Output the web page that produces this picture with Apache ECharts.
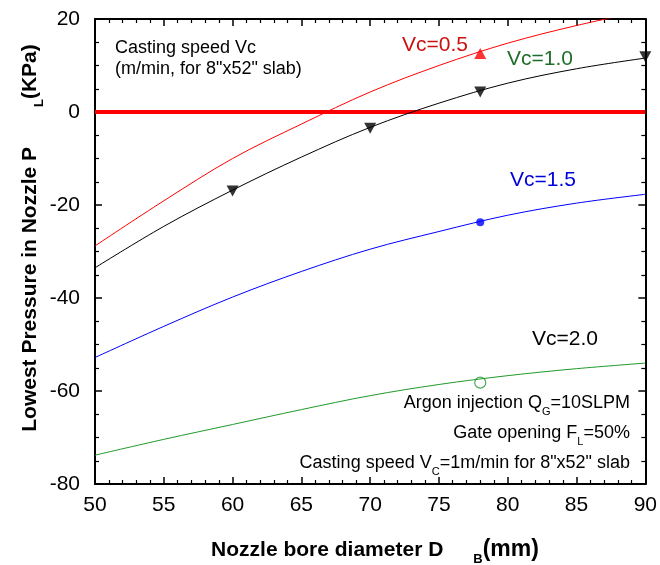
<!DOCTYPE html>
<html>
<head>
<meta charset="utf-8">
<script src="https://cdn.jsdelivr.net/npm/echarts@6/dist/echarts.min.js"></script>
<style>html,body{margin:0;padding:0;background:#fff}#c{width:660px;height:565px}</style>
</head>
<body>
<div id="c"></div>
<script>
// Nozzle bore diameter D_B (mm)
const diam = [50, 55, 60, 65, 70, 75, 80, 85, 90];
// Lowest pressure P_L (kPa) for each casting speed
const vc05 = [-28.8, -19.1, -10.0, -2.6, 4.3, 10.0, 14.8, 18.6, 21.8];
const vc10 = [-33.5, -24.6, -16.8, -9.7, -3.3, 1.9, 6.2, 9.3, 11.6];
const vc15 = [-52.8, -46.1, -39.8, -34.3, -29.5, -25.7, -22.2, -19.6, -17.7];
const vc20 = [-73.8, -70.4, -67.2, -64.0, -61.0, -58.6, -56.7, -55.2, -54.0];
// measured points
const mk05 = [[78, 12.6]];
const mk10 = [[60, -17.0], [70, -3.5], [78, 4.3], [90, 11.9]];
const mk15 = [[78, -23.7]];
const mk20 = [[78, -58.2]];
const zeroLine = [[50, 0], [90, 0]];
const xTicks = [50, 55, 60, 65, 70, 75, 80, 85, 90];
const yTicks = [-80, -60, -40, -20, 0, 20];

const FONT = '"Liberation Sans", Arial, Helvetica, sans-serif';
const pair = (xs, ys) => xs.map((x, i) => [x, ys[i]]);

const axisCommon = {
  type: 'value',
  axisLine: { show: true, onZero: false, lineStyle: { color: '#000', width: 2 } },
  axisTick: { show: true, inside: true, length: 7, lineStyle: { color: '#000', width: 1.5 } },
  minorTick: { show: true, length: 4, lineStyle: { color: '#000', width: 1.2 } },
  splitLine: { show: false },
  minorSplitLine: { show: false }
};

const chart = echarts.init(document.getElementById('c'));
chart.setOption({
  backgroundColor: '#fff',
  animation: false,
  grid: { left: 95, right: 14, top: 19, bottom: 81 },
  xAxis: [
    Object.assign({}, axisCommon, {
      position: 'bottom', min: xTicks[0], max: xTicks[xTicks.length - 1], interval: 5,
      minorTick: Object.assign({}, axisCommon.minorTick, { splitNumber: 5 }),
      axisLabel: { color: '#000', fontSize: 21, fontFamily: FONT, margin: 11 }
    }),
    Object.assign({}, axisCommon, {
      position: 'top', min: xTicks[0], max: xTicks[xTicks.length - 1], interval: 5,
      minorTick: Object.assign({}, axisCommon.minorTick, { splitNumber: 5 }),
      axisLabel: { show: false }
    })
  ],
  yAxis: [
    Object.assign({}, axisCommon, {
      position: 'left', min: yTicks[0], max: yTicks[yTicks.length - 1], interval: 20,
      minorTick: Object.assign({}, axisCommon.minorTick, { splitNumber: 4 }),
      axisLabel: { color: '#000', fontSize: 21, fontFamily: FONT, margin: 15 }
    }),
    Object.assign({}, axisCommon, {
      position: 'right', min: yTicks[0], max: yTicks[yTicks.length - 1], interval: 20,
      minorTick: Object.assign({}, axisCommon.minorTick, { splitNumber: 4 }),
      axisLabel: { show: false }
    })
  ],
  series: [
    { type: 'line', data: zeroLine, symbol: 'none', lineStyle: { color: '#ff0000', width: 4 }, z: 1 },
    { type: 'line', data: pair(diam, vc05), smooth: 0.35, symbol: 'none', lineStyle: { color: '#ff0000', width: 1 }, clip: true, z: 2 },
    { type: 'line', data: pair(diam, vc10), smooth: 0.35, symbol: 'none', lineStyle: { color: '#000000', width: 1 }, z: 2 },
    { type: 'line', data: pair(diam, vc15), smooth: 0.35, symbol: 'none', lineStyle: { color: '#0000ff', width: 1 }, z: 2 },
    { type: 'line', data: pair(diam, vc20), smooth: 0.35, symbol: 'none', lineStyle: { color: '#1f9a2a', width: 1 }, z: 2 },
    { type: 'scatter', data: mk05, symbol: 'triangle', symbolSize: [12, 11], itemStyle: { color: '#ff0000' }, z: 3 },
    { type: 'scatter', data: mk10, symbol: 'triangle', symbolRotate: 180, symbolSize: [12, 11], itemStyle: { color: '#000' }, clip: false, z: 3 },
    { type: 'scatter', data: mk15, symbol: 'circle', symbolSize: 8, itemStyle: { color: '#0000ff' }, z: 3 },
    { type: 'scatter', data: mk20, symbol: 'circle', symbolSize: 11, itemStyle: { color: 'rgba(255,255,255,0)', borderColor: '#1f9a2a', borderWidth: 1.2 }, z: 3 }
  ],
  graphic: [
    { type: 'text', x: 115, y: 48, style: { text: 'Casting speed Vc', font: '18px ' + FONT, fill: '#000', textAlign: 'left', textVerticalAlign: 'middle' } },
    { type: 'text', x: 115, y: 69, style: { text: '(m/min, for 8"x52" slab)', font: '18px ' + FONT, fill: '#000', textAlign: 'left', textVerticalAlign: 'middle' } },
    { type: 'text', x: 402, y: 45, style: { text: 'Vc=0.5', font: '21px ' + FONT, fill: '#cc1111', textAlign: 'left', textVerticalAlign: 'middle' } },
    { type: 'text', x: 507, y: 59, style: { text: 'Vc=1.0', font: '21px ' + FONT, fill: '#1e6e2a', textAlign: 'left', textVerticalAlign: 'middle' } },
    { type: 'text', x: 510, y: 180, style: { text: 'Vc=1.5', font: '21px ' + FONT, fill: '#0000dd', textAlign: 'left', textVerticalAlign: 'middle' } },
    { type: 'text', x: 532, y: 339, style: { text: 'Vc=2.0', font: '21px ' + FONT, fill: '#000', textAlign: 'left', textVerticalAlign: 'middle' } },
    { type: 'text', x: 630, y: 403, style: {
      text: '{a|Argon injection Q}{s|G}{a|=10SLPM}', textAlign: 'right', textVerticalAlign: 'middle',
      rich: { a: { font: '18px ' + FONT, fill: '#000', lineHeight: 20 }, s: { font: '11px ' + FONT, fill: '#000', lineHeight: 12, padding: [18, 0, 0, 0] } } } },
    { type: 'text', x: 630, y: 433, style: {
      text: '{a|Gate opening F}{s|L}{a|=50%}', textAlign: 'right', textVerticalAlign: 'middle',
      rich: { a: { font: '18px ' + FONT, fill: '#000', lineHeight: 20 }, s: { font: '11px ' + FONT, fill: '#000', lineHeight: 12, padding: [18, 0, 0, 0] } } } },
    { type: 'text', x: 630, y: 463, style: {
      text: '{a|Casting speed V}{s|C}{a|=1m/min for 8"x52" slab}', textAlign: 'right', textVerticalAlign: 'middle',
      rich: { a: { font: '18px ' + FONT, fill: '#000', lineHeight: 20 }, s: { font: '11px ' + FONT, fill: '#000', lineHeight: 12, padding: [18, 0, 0, 0] } } } },
    { type: 'text', x: 375, y: 550, style: {
      text: '{a|Nozzle bore diameter D}{s|B}{m|(mm)}', textAlign: 'center', textVerticalAlign: 'middle',
      rich: { a: { font: 'bold 21px ' + FONT, fill: '#000', lineHeight: 24 }, m: { font: 'bold 23px ' + FONT, fill: '#000', lineHeight: 24 }, s: { font: 'bold 13px ' + FONT, fill: '#000', lineHeight: 14, padding: [18, 0, 0, 30] } } } },
    { type: 'text', x: 30, y: 238, rotation: Math.PI / 2, style: {
      text: '{a|Lowest Pressure in Nozzle P}{s|L}{a|(KPa)}', textAlign: 'center', textVerticalAlign: 'middle',
      rich: { a: { font: 'bold 21px ' + FONT, fill: '#000', lineHeight: 24 }, s: { font: 'bold 13px ' + FONT, fill: '#000', lineHeight: 14, padding: [18, 0, 0, 40] } } } }
  ]
});
</script>
</body>
</html>
